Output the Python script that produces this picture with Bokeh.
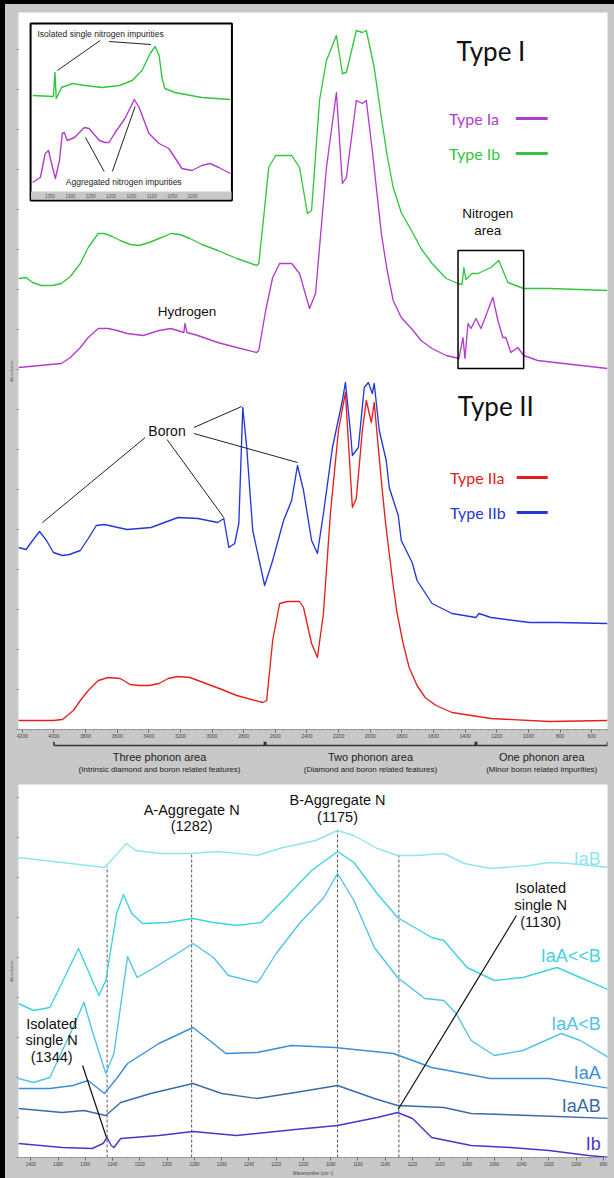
from bokeh.plotting import figure
from bokeh.models import Range1d, SingleIntervalTicker, FixedTicker, Div
from bokeh.layouts import column, row
from bokeh.embed import file_html
from bokeh.resources import INLINE
from bokeh.core.properties import value

# ================= DATA =================
# --- Top panel: FTIR spectra (wavenumber cm-1, stacked absorbance a.u.) ---
ia_wn = [4224, 3953, 3896, 3833, 3783, 3720, 3657, 3600, 3537, 3436,
         3335, 3260, 3178, 3172, 3159, 3090, 2964, 2844, 2718, 2705,
         2660, 2617, 2573, 2497, 2447, 2384, 2346, 2277, 2214, 2176,
         2151, 2088, 2050, 2025, 1987, 1930, 1893, 1855, 1804, 1729,
         1679, 1609, 1520, 1439, 1414, 1401, 1382, 1363, 1332, 1300,
         1225, 1193, 1162, 1143, 1111, 1067, 1030, 941, 778, 500]
ia_abs = [362, 366, 372, 382, 392, 401, 401, 399, 396, 394,
          399, 401, 397, 406, 397, 394, 387, 382, 377, 379,
          420, 452, 466, 466, 456, 421, 436, 562, 637, 546,
          552, 629, 626, 629, 579, 496, 459, 429, 412, 399,
          389, 381, 374, 371, 392, 371, 406, 401, 411, 401,
          432, 409, 392, 392, 377, 382, 374, 369, 366, 361]

ib_wn = [4224, 4176, 4135, 4079, 4009, 3953, 3896, 3833, 3783, 3720,
         3682, 3631, 3581, 3518, 3461, 3398, 3335, 3260, 3203, 3140,
         3064, 2964, 2844, 2718, 2705, 2674, 2642, 2598, 2497, 2447,
         2397, 2371, 2321, 2277, 2214, 2176, 2151, 2088, 2050, 2025,
         1975, 1930, 1893, 1855, 1804, 1729, 1679, 1609, 1520, 1445,
         1420, 1408, 1395, 1357, 1319, 1237, 1187, 1174, 1130, 1080,
         1030, 866, 500]
ib_abs = [451, 452, 447, 444, 444, 446, 453, 466, 482, 496,
          496, 493, 489, 485, 484, 487, 491, 496, 495, 491,
          485, 479, 471, 464, 466, 512, 562, 574, 574, 562,
          516, 519, 629, 669, 694, 656, 657, 699, 697, 699,
          662, 612, 574, 542, 517, 496, 481, 466, 451, 446,
          445, 462, 450, 456, 456, 462, 469, 464, 447, 444,
          441, 441, 439]

iia_wn = [4224, 4003, 3946, 3877, 3833, 3783, 3720, 3657, 3581, 3518,
          3461, 3398, 3335, 3278, 3216, 3140, 3039, 2938, 2844, 2680,
          2655, 2617, 2573, 2523, 2447, 2422, 2371, 2334, 2296, 2252,
          2201, 2157, 2126, 2113, 2088, 2050, 2025, 1993, 1975, 1930,
          1905, 1880, 1855, 1830, 1792, 1754, 1704, 1653, 1584, 1483,
          1237, 866, 500]
iia_abs = [9, 9, 10, 19, 29, 39, 49, 52, 51, 45,
           44, 44, 46, 51, 53, 52, 46, 40, 34, 27,
           29, 89, 126, 128, 128, 122, 86, 72, 116, 216,
           299, 337, 256, 222, 231, 299, 329, 307, 327, 249,
           209, 176, 144, 116, 86, 62, 44, 32, 24, 17,
           11, 8, 9]

iib_wn = [4224, 4176, 4135, 4091, 4047, 4003, 3946, 3902, 3833, 3783,
          3732, 3682, 3537, 3386, 3216, 3090, 2964, 2926, 2894, 2857,
          2831, 2806, 2781, 2743, 2668, 2617, 2548, 2497, 2460, 2422,
          2371, 2334, 2296, 2239, 2176, 2157, 2126, 2113, 2075, 2038,
          2012, 1987, 1975, 1943, 1899, 1880, 1823, 1804, 1735, 1704,
          1609, 1483, 1332, 1313, 1237, 992, 815, 500]
iib_abs = [182, 180, 189, 198, 189, 177, 174, 175, 179, 191,
           204, 205, 200, 202, 212, 211, 207, 211, 182, 186,
           206, 322, 282, 199, 144, 169, 209, 229, 264, 239,
           189, 176, 216, 282, 329, 347, 299, 274, 282, 342,
           347, 336, 346, 299, 269, 242, 214, 189, 167, 149,
           126, 116, 112, 116, 112, 107, 107, 106]

# --- Inset: nitrogen region (cm-1, a.u.) ---
ins_ib_wn = [1393, 1342, 1338, 1335, 1330, 1322, 1295, 1264, 1222, 1180, 1148, 1124, 1104, 1092, 1082,
             1075, 1068, 1043, 977, 907]
ins_ib_abs = [105, 104, 128, 102, 106, 113, 117, 115, 113, 115, 120, 130, 147, 154, 145,
              123, 112, 108, 103, 101]
ins_ia_wn = [1393, 1374, 1362, 1354, 1344, 1337, 1327, 1320, 1315, 1308, 1290, 1266, 1254, 1229, 1215,
             1205, 1190, 1166, 1143, 1131, 1107, 1082, 1058, 1050, 1026, 1001, 977, 957, 935, 907]
ins_ia_abs = [18, 23, 47, 50, 33, 22, 40, 67, 68, 60, 63, 73, 72, 60, 58,
              58, 68, 82, 101, 93, 67, 57, 52, 47, 32, 30, 35, 37, 33, 27]
inset_ticks = [1350, 1300, 1250, 1200, 1150, 1100, 1050, 1000]

# --- Phonon regions ---
phonon_edges = [4000, 2665, 1332, 500]
phonon_names = ["Three phonon area", "Two phonon area", "One phonon area"]
phonon_notes = ["(Intrinsic diamond and boron related features)",
                "(Diamond and boron related features)",
                "(Minor boron related impurities)"]

# --- Bottom panel: nitrogen aggregation series (cm-1, stacked absorbance a.u.) ---
iab_wn = [1409, 1377, 1346, 1339, 1330, 1323, 1306, 1283, 1263, 1234, 1215, 1191, 1175, 1163, 1146,
          1131, 1117, 1097, 1082, 1063, 1034, 1020, 1005, 975]
iab_abs = [300, 295, 290, 300, 314, 307, 304, 304, 306, 302, 310, 317, 327, 322, 309,
           302, 302, 304, 294, 289, 292, 295, 294, 290]
iallb_wn = [1409, 1398, 1386, 1377, 1365, 1358, 1350, 1345, 1337, 1332, 1326, 1318, 1300, 1281, 1266,
            1249, 1231, 1215, 1194, 1175, 1163, 1146, 1131, 1106, 1097, 1080, 1060, 1039, 1014, 997, 975]
iallb_abs = [154, 147, 150, 175, 209, 187, 162, 177, 244, 263, 244, 234, 235, 239, 235,
             232, 235, 257, 287, 306, 295, 264, 240, 220, 217, 190, 177, 180, 190, 180, 167]
ialb_wn = [1409, 1398, 1386, 1370, 1361, 1355, 1345, 1339, 1329, 1322, 1309, 1281, 1266, 1255, 1234,
           1231, 1220, 1203, 1185, 1175, 1163, 1148, 1131, 1111, 1097, 1088, 1077, 1060, 1039, 1011, 997, 975]
ialb_abs = [79, 75, 80, 127, 155, 127, 84, 104, 201, 180, 190, 214, 200, 182, 175,
            180, 204, 234, 260, 284, 257, 210, 180, 159, 157, 144, 117, 102, 107, 124, 117, 99]
iaa_wn = [1409, 1386, 1369, 1358, 1346, 1337, 1329, 1306, 1281, 1266, 1257, 1234, 1209, 1177, 1134,
          1106, 1094, 1063, 1020, 975]
iaa_abs = [69, 69, 72, 77, 64, 79, 94, 114, 130, 114, 104, 105, 112, 110, 104, 90, 87, 79, 79, 69]
iaab_wn = [1409, 1377, 1361, 1345, 1334, 1312, 1281, 1260, 1234, 1206, 1175, 1148, 1131, 1097, 1077, 1034, 975]
iaab_abs = [49, 45, 47, 42, 55, 64, 74, 64, 59, 65, 72, 59, 52, 50, 44, 42, 39]
ibn_wn = [1409, 1377, 1355, 1347, 1344, 1341, 1339, 1334, 1306, 1281, 1249, 1206, 1175, 1146, 1131,
          1120, 1106, 1077, 1048, 1020, 991, 975]
ibn_abs = [14, 10, 9, 14, 20, 12, 10, 19, 22, 26, 22, 28, 32, 40, 45, 39, 20, 12, 10, 7, 2, 0]
marker_wn = [1344, 1282, 1175, 1130]

# ================= STYLE =================
GRAY = "#c8c8c8"
SANS = "Liberation Sans"
HUM = "Lato"
C_IA, C_IB, C_IIA, C_IIB = "#b23ccc", "#33c63d", "#e3201e", "#2338d6"
C_B = {"IaB": "#90e5ee", "IaA<<B": "#3fd2e0", "IaA<B": "#52c4e6", "IaA": "#3a8ed8", "IaAB": "#3a6aa6", "Ib": "#4836cc"}


def add_text(p, x, y, s, size, color="#111111", align="center", font=SANS, **kw):
    p.text(x=[x], y=[y], text=[s], text_font=value(font), text_font_size=size,
           text_color=color, text_align=align, text_baseline="middle", **kw)


def style_axes(p, xint, ytop, xsize):
    p.grid.visible = False
    p.xaxis.ticker = SingleIntervalTicker(interval=xint, num_minor_ticks=4)
    p.xaxis.major_label_text_font_size = xsize
    p.xaxis.major_label_text_font = SANS
    p.xaxis.major_label_text_color = "#444444"
    p.xaxis.major_label_standoff = 1
    p.xaxis.major_tick_out = 3
    p.xaxis.major_tick_in = 0
    p.xaxis.minor_tick_out = 1
    p.xaxis.minor_tick_in = 0
    p.xaxis.axis_line_color = "#9a9a9a"
    p.xaxis.major_tick_line_color = "#666666"
    p.xaxis.minor_tick_line_color = "#888888"
    p.yaxis.ticker = FixedTicker(ticks=[], minor_ticks=list(range(0, ytop, 40)))
    p.yaxis.minor_tick_out = 2
    p.yaxis.minor_tick_in = 0
    p.yaxis.axis_line_color = None
    p.yaxis.minor_tick_line_color = "#8a8a8a"
    p.yaxis.axis_label = "Absorbance"
    p.yaxis.axis_label_text_font_size = "4px"
    p.yaxis.axis_label_text_font_style = "normal"
    p.yaxis.axis_label_standoff = 3
    p.yaxis.axis_label_text_color = "#555555"


# ================= TOP PANEL =================
p1 = figure(width=609, height=737, x_range=Range1d(4224, 500), y_range=Range1d(0, 717),
            toolbar_location=None, output_backend="svg",
            min_border_left=11, min_border_right=7, min_border_top=8, min_border_bottom=12,
            background_fill_color="white", border_fill_color=GRAY, outline_line_color=None)
style_axes(p1, 200, 717, "5px")
p1.extra_x_ranges = {"ix": Range1d(1427.7, -20.3)}
p1.extra_y_ranges = {"iy": Range1d(-529, 188)}

for wn, ab, col in [(ib_wn, ib_abs, C_IB), (ia_wn, ia_abs, C_IA), (iib_wn, iib_abs, C_IIB), (iia_wn, iia_abs, C_IIA)]:
    p1.line(wn, ab, line_color=col, line_width=1.35, line_join="round")

# inset
p1.quad(left=[1398], right=[903], bottom=[0], top=[177], fill_color="white", line_color="black",
        line_width=2, x_range_name="ix", y_range_name="iy")
p1.quad(left=[1397], right=[904], bottom=[1], top=[9], fill_color=GRAY, line_color=None,
        x_range_name="ix", y_range_name="iy")
p1.line(ins_ib_wn, ins_ib_abs, line_color=C_IB, line_width=1.4, line_join="round",
        x_range_name="ix", y_range_name="iy")
p1.line(ins_ia_wn, ins_ia_abs, line_color=C_IA, line_width=1.4, line_join="round",
        x_range_name="ix", y_range_name="iy")
p1.text(x=inset_ticks, y=[5] * len(inset_ticks), text=[str(t) for t in inset_ticks],
        text_font=value(SANS), text_font_size="4.5px", text_color="#555555", text_align="center",
        text_baseline="middle", x_range_name="ix", y_range_name="iy")
p1.segment(x0=[1227, 1205], y0=[160, 159], x1=[1332, 1102], y1=[130, 156], line_color="#222222",
           line_width=1, x_range_name="ix", y_range_name="iy")
p1.segment(x0=[1217, 1197], y0=[29, 29], x1=[1263, 1141], y1=[63, 94], line_color="#222222",
           line_width=1, x_range_name="ix", y_range_name="iy")
p1.text(x=[1381], y=[167], text=["Isolated single nitrogen impurities"], text_font=value(SANS),
        text_font_size="8.5px", text_color="#222222", text_align="left", text_baseline="middle",
        x_range_name="ix", y_range_name="iy")
p1.text(x=[1169], y=[19], text=["Aggregated nitrogen impurities"], text_font=value(SANS),
        text_font_size="8.5px", text_color="#222222", text_align="center", text_baseline="middle",
        x_range_name="ix", y_range_name="iy")

# titles & legends
add_text(p1, 1237, 679, "Type I", "26px", font=HUM)
add_text(p1, 1502, 611, "Type Ia", "16px", color=C_IA, align="left", font=HUM)
add_text(p1, 1502, 576, "Type Ib", "16px", color=C_IB, align="left", font=HUM)
p1.segment(x0=[1080, 1080], y0=[611, 576], x1=[878, 878], y1=[611, 576],
           line_color=[C_IA, C_IB], line_width=3)
add_text(p1, 1206, 324, "Type II", "26px", font=HUM)
add_text(p1, 1496, 252, "Type IIa", "16px", color=C_IIA, align="left", font=HUM)
add_text(p1, 1496, 217, "Type IIb", "16px", color=C_IIB, align="left", font=HUM)
p1.segment(x0=[1074, 1074], y0=[252, 217], x1=[878, 878], y1=[252, 217],
           line_color=[C_IIA, C_IIB], line_width=3)

add_text(p1, 1257, 516, "Nitrogen", "13.5px")
add_text(p1, 1257, 499, "area", "13.5px")
p1.quad(left=[1445], right=[1030], bottom=[361], top=[479], fill_color=None, line_color="black",
        line_width=1.5)
add_text(p1, 3159, 418, "Hydrogen", "13.5px")
add_text(p1, 3285, 299, "Boron", "14px")
p1.segment(x0=[3423, 3285, 3115, 3115], y0=[292, 290, 302, 296],
           x1=[4072, 2926, 2813, 2460], y1=[207, 212, 323, 267], line_color="#222222", line_width=1)

# ================= PHONON STRIP =================
ps = figure(width=609, height=39, x_range=p1.x_range, y_range=Range1d(39, 0),
            toolbar_location=None, output_backend="svg", x_axis_type=None, y_axis_type=None,
            min_border_left=11, min_border_right=7, min_border_top=0, min_border_bottom=0,
            background_fill_color=GRAY, border_fill_color=GRAY, outline_line_color=None)
ps.grid.visible = False
ps.segment(x0=[phonon_edges[0]], y0=[4], x1=[phonon_edges[-1]], y1=[4], line_color="#333333", line_width=1.5)
ps.segment(x0=phonon_edges, y0=[0] * 4, x1=phonon_edges, y1=[4] * 4, line_color="#333333",
           line_width=[1.5, 3, 3, 1.5])
centers = [(a + b) / 2 for a, b in zip(phonon_edges[:-1], phonon_edges[1:])]
ps.text(x=centers, y=[15] * 3, text=phonon_names, text_font=value(SANS), text_font_size="11px",
        text_color="#222222", text_align="center", text_baseline="middle")
ps.text(x=centers, y=[28] * 3, text=phonon_notes, text_font=value(SANS), text_font_size="8px",
        text_color="#222222", text_align="center", text_baseline="middle")

# ================= BOTTOM PANEL =================
p2 = figure(width=609, height=398, x_range=Range1d(1409, 977), y_range=Range1d(0, 373),
            toolbar_location=None, output_backend="svg",
            min_border_left=11, min_border_right=7, min_border_top=4, min_border_bottom=21,
            background_fill_color="white", border_fill_color=GRAY, outline_line_color=None)
style_axes(p2, 20, 373, "4.5px")
p2.xaxis.ticker = SingleIntervalTicker(interval=20, num_minor_ticks=2)
p2.xaxis.axis_label = "Wavenumber (cm\u207b\u00b9)"
p2.xaxis.axis_label_text_font_size = "4.5px"
p2.xaxis.axis_label_text_font_style = "normal"
p2.xaxis.axis_label_standoff = 2
p2.xaxis.axis_label_text_color = "#444444"

p2.segment(x0=marker_wn, y0=[0] * 4, x1=marker_wn, y1=[291, 304, 327, 304],
           line_color="#555555", line_width=1, line_dash="3 2")

series = [("IaB", iab_wn, iab_abs), ("IaA<<B", iallb_wn, iallb_abs), ("IaA<B", ialb_wn, ialb_abs),
          ("IaA", iaa_wn, iaa_abs), ("IaAB", iaab_wn, iaab_abs), ("Ib", ibn_wn, ibn_abs)]
for name, wn, ab in series:
    p2.line(wn, ab, line_color=C_B[name], line_width=1.4, line_join="round")

label_y = {"IaB": 299, "IaA<<B": 202, "IaA<B": 134, "IaA": 85, "IaAB": 52, "Ib": 14}
for name, _, _ in series:
    add_text(p2, 982, label_y[name], name, "18px", color=C_B[name], align="right")

add_text(p2, 1282, 348, "A-Aggregate N", "14.5px")
add_text(p2, 1282, 332, "(1282)", "14.5px")
add_text(p2, 1175, 358, "B-Aggregate N", "14.5px")
add_text(p2, 1175, 341, "(1175)", "14.5px")
for i, s in enumerate(["Isolated", "single N", "(1130)"]):
    add_text(p2, 1026, 270 - 17 * i, s, "14.5px")
for i, s in enumerate(["Isolated", "single N", "(1344)"]):
    add_text(p2, 1384.7, 134 - 16.5 * i, s, "14.5px")
p2.segment(x0=[1362, 1043.8], y0=[92, 242], x1=[1344.5, 1130.6], y1=[20, 48], line_color="#111111",
           line_width=1.2)

# ================= PAGE (black frame on top/left) =================
top_bar = Div(text="", width=614, height=4, margin=0, styles={"background-color": "black"})
left_bar = Div(text="", width=5, height=1174, margin=0, styles={"background-color": "black"})
panels = column(p1, ps, p2, spacing=0, margin=0)
layout = column(top_bar, row(left_bar, panels, spacing=0, margin=0), spacing=0, margin=0,
                styles={"background-color": GRAY})

open("out.html", "w").write(file_html(layout, INLINE))
